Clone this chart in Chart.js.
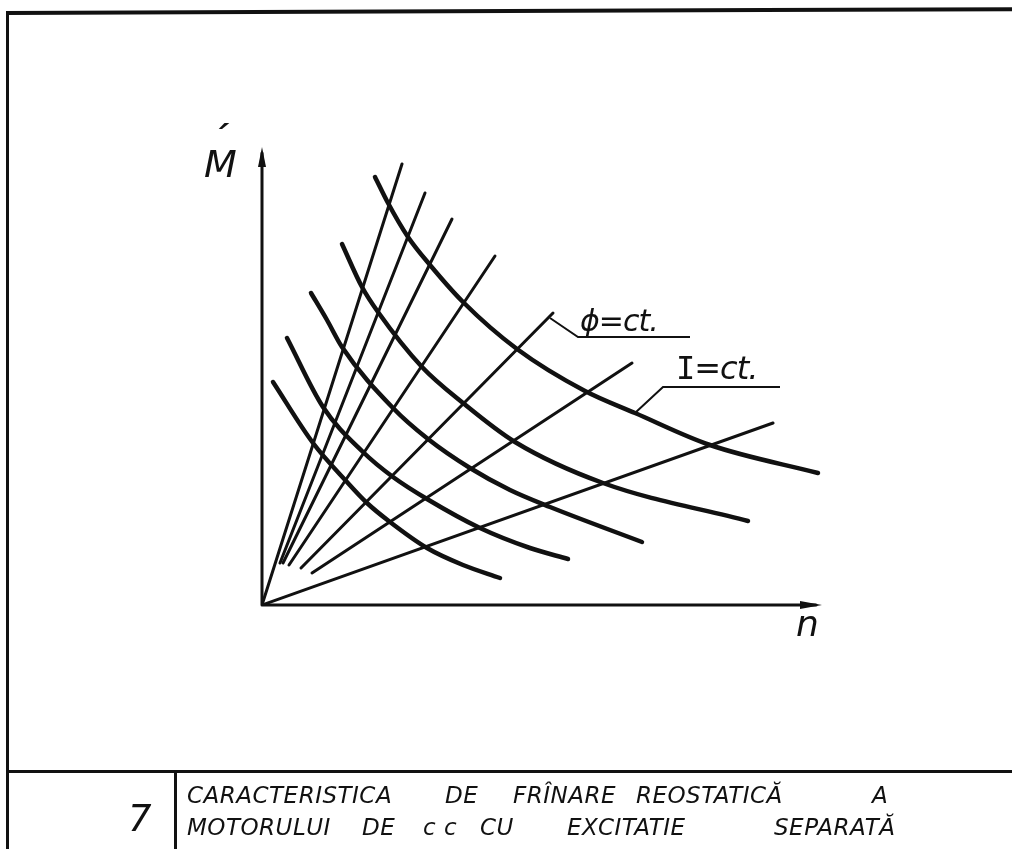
<!DOCTYPE html>
<html>
<head>
<meta charset="utf-8">
<title>Caracteristica de frinare reostatica</title>
<script src="https://cdn.jsdelivr.net/npm/chart.js@4.4.0/dist/chart.umd.min.js"></script>
<style>
  html, body { margin: 0; padding: 0; background: #fff; }
  #sheet { position: relative; width: 1012px; height: 849px; overflow: hidden; background: #fff; }
  #plot { position: absolute; left: 0; top: 0; }
  .rule { position: absolute; background: #111; }
  .txt {
    position: absolute;
    font-family: "DejaVu Sans", sans-serif;
    font-style: oblique;
    color: #111;
    white-space: pre;
    line-height: 1;
  }
  .cap { font-size: 23px; letter-spacing: 0.5px; }
  .serifI { font-family: "DejaVu Sans Mono", monospace; font-style: normal; }
</style>
</head>
<body>
<div id="sheet">
  <!-- drawing frame and title block -->
  <div class="rule" style="left:6px; top:11px; width:1010px; height:4px; transform:rotate(-0.22deg); transform-origin:0 0;"></div>
  <div class="rule" style="left:6px; top:13px; width:3px; height:840px;"></div>
  <div class="rule" style="left:6px; top:770px; width:1010px; height:3px;"></div>
  <div class="rule" style="left:174px; top:771px; width:3px; height:80px;"></div>

  <canvas id="plot" width="1012" height="849"></canvas>

  <div class="txt" style="left:211px; top:121px; font-size:34px; font-weight:bold;">´</div>
  <div class="txt" style="left:204px; top:145px; font-size:38px;">M</div>
  <div class="txt" style="left:796px; top:606px; font-size:36px;">n</div>
  <div class="txt" style="left:580px; top:306px; font-size:30px; letter-spacing:-1px;">ϕ=ct.</div>
  <div class="txt" style="left:676px; top:352px; font-size:32px; letter-spacing:-1px;"><span class="serifI">I</span>=ct.</div>

  <div class="txt" style="left:128px; top:800px; font-size:37px;">7</div>
  <!-- caption, row 1 -->
  <div class="txt cap" style="left:187px; top:784px;">CARACTERISTICA</div>
  <div class="txt cap" style="left:445px; top:784px;">DE</div>
  <div class="txt cap" style="left:513px; top:784px;">FRÎNARE</div>
  <div class="txt cap" style="left:636px; top:784px;">REOSTATICĂ</div>
  <div class="txt cap" style="left:872px; top:784px;">A</div>
  <!-- caption, row 2 -->
  <div class="txt cap" style="left:187px; top:816px;">MOTORULUI</div>
  <div class="txt cap" style="left:362px; top:816px;">DE</div>
  <div class="txt cap" style="left:423px; top:816px;">c c</div>
  <div class="txt cap" style="left:480px; top:816px;">CU</div>
  <div class="txt cap" style="left:567px; top:816px;">EXCITATIE</div>
  <div class="txt cap" style="left:774px; top:816px;">SEPARATĂ</div>
</div>

<script>
// Axis extents (drawing units: 10 px per unit)
const N_END = 56;
const M_END = 45.8;

// I = ct. curves (hyperbola family), inner to outer
const curveA_n = [1.1, 5.1, 8.5, 10.5, 12.8, 16.5, 20.1, 23.8];
const curveA_M = [22.3, 16.2, 12.3, 10.2, 8.3, 5.7, 4.0, 2.7];

const curveB_n = [2.5, 6.1, 10.1, 13.1, 16.5, 21.8, 26.8, 30.6];
const curveB_M = [26.7, 19.8, 15.3, 12.8, 10.6, 7.7, 5.7, 4.6];

const curveC_n = [4.9, 6.5, 8.0, 13.1, 16.6, 20.8, 24.8, 28.8, 38.0];
const curveC_M = [31.2, 28.5, 25.8, 19.7, 16.6, 13.7, 11.5, 9.8, 6.3];

const curveD_n = [8.0, 10.0, 11.6, 16.0, 20.1, 25.3, 34.1, 48.6];
const curveD_M = [36.1, 31.8, 29.3, 23.8, 20.2, 16.3, 12.2, 8.4];

const curveE_n = [11.3, 12.6, 14.6, 16.8, 20.1, 25.5, 32.3, 37.3, 44.8, 55.6];
const curveE_M = [42.8, 40.2, 36.8, 34.0, 30.3, 25.6, 21.4, 19.2, 16.0, 13.2];

// phi = ct. rays: start / end points, steepest first
const ray_n0 = [0.0, 1.8, 2.1, 2.7, 3.9, 5.0, 0.0];
const ray_M0 = [0.0, 4.2, 4.2, 4.0, 3.7, 3.2, 0.0];
const ray_n1 = [14.0, 16.3, 19.0, 23.3, 29.1, 37.0, 51.1];
const ray_M1 = [44.1, 41.2, 38.6, 34.9, 29.2, 24.2, 18.2];

// leader lines for the two labels
const phiLeader_n = [28.8, 31.6, 42.8];
const phiLeader_M = [28.7, 26.8, 26.8];
const iLeader_n = [37.3, 40.1, 51.8];
const iLeader_M = [19.2, 21.8, 21.8];

const INK = '#111';

function pts(ns, ms) {
  return ns.map((n, i) => ({ x: n, y: ms[i] }));
}

const curves = [
  [curveA_n, curveA_M],
  [curveB_n, curveB_M],
  [curveC_n, curveC_M],
  [curveD_n, curveD_M],
  [curveE_n, curveE_M],
].map(([ns, ms]) => ({
  data: pts(ns, ms),
  borderColor: INK,
  borderWidth: 4.5,
  borderCapStyle: 'round',
  cubicInterpolationMode: 'monotone',
  pointRadius: 0,
  fill: false,
}));

const rays = ray_n0.map((n0, i) => ({
  data: [{ x: n0, y: ray_M0[i] }, { x: ray_n1[i], y: ray_M1[i] }],
  borderColor: INK,
  borderWidth: 3,
  borderCapStyle: 'round',
  tension: 0,
  pointRadius: 0,
  fill: false,
}));

const leaders = [
  [phiLeader_n, phiLeader_M],
  [iLeader_n, iLeader_M],
].map(([ns, ms]) => ({
  data: pts(ns, ms),
  borderColor: INK,
  borderWidth: 2,
  tension: 0,
  pointRadius: 0,
  fill: false,
}));

// ---- axes with arrow heads, drawn from the scales ----
const arrowAxes = {
  id: 'arrowAxes',
  afterDatasetsDraw(chart) {
    const { ctx, scales } = chart;
    const x0 = scales.x.getPixelForValue(0);
    const y0 = scales.y.getPixelForValue(0);
    const xEnd = scales.x.getPixelForValue(N_END);
    const yEnd = scales.y.getPixelForValue(M_END);

    ctx.save();
    ctx.strokeStyle = INK;
    ctx.fillStyle = INK;
    ctx.lineWidth = 3;
    ctx.lineCap = 'round';

    ctx.beginPath();
    ctx.moveTo(x0, y0);
    ctx.lineTo(x0, yEnd + 6);
    ctx.moveTo(x0, y0);
    ctx.lineTo(xEnd - 6, y0);
    ctx.stroke();

    // arrow on M
    ctx.beginPath();
    ctx.moveTo(x0, yEnd);
    ctx.lineTo(x0 - 4, yEnd + 20);
    ctx.lineTo(x0 + 4, yEnd + 20);
    ctx.closePath();
    ctx.fill();

    // arrow on n
    ctx.beginPath();
    ctx.moveTo(xEnd, y0);
    ctx.lineTo(xEnd - 22, y0 - 4);
    ctx.lineTo(xEnd - 22, y0 + 4);
    ctx.closePath();
    ctx.fill();
    ctx.restore();
  }
};

new Chart(document.getElementById('plot'), {
  type: 'line',
  data: { datasets: [...rays, ...curves, ...leaders] },
  options: {
    responsive: false,
    animation: false,
    events: [],
    layout: { padding: { left: 262, right: 190, top: 147, bottom: 244 } },
    plugins: {
      legend: { display: false },
      tooltip: { enabled: false },
    },
    scales: {
      x: { type: 'linear', min: 0, max: N_END, display: false },
      y: { type: 'linear', min: 0, max: M_END, display: false },
    },
  },
  plugins: [arrowAxes],
});
</script>
</body>
</html>
